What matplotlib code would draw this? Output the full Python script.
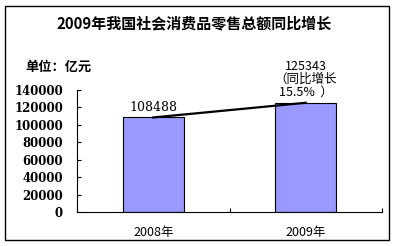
import matplotlib
matplotlib.use('Agg')
from matplotlib import pyplot as plt, ticker
from matplotlib.patches import Rectangle

plt.rcParams['font.family'] = ['Noto Sans CJK SC', 'DejaVu Sans']

years = ['2008年', '2009年']
sales = [108488, 125343]
growth_note = '125343\n（同比增长\n15.5%  ）'
yticks = [0, 20000, 40000, 60000, 80000, 100000, 120000, 140000]

fig = plt.figure(figsize=(3.97, 2.46), dpi=100)
fig.patches.append(Rectangle((5 / 397, 6 / 246), 384 / 397, 234 / 246, transform=fig.transFigure,
                             fill=False, edgecolor='black', linewidth=1))

ax = fig.add_axes([77 / 397, 1 - 212 / 246, 305 / 397, 122 / 246])
x = [0, 1]
ax.bar(x, sales, width=0.4, color='#9999ff', edgecolor='black', linewidth=0.8, zorder=2)
ax.plot(x, sales, color='black', linewidth=1.6, zorder=3)

ax.set_xlim(-0.5, 1.5)
ax.set_ylim(0, 140000)
ax.set_yticks(yticks)
ax.yaxis.set_major_formatter(ticker.FuncFormatter(lambda v, p: f'{int(v)}'))
ax.set_xticks([-0.5, 0.5, 1.5])
ax.set_xticklabels([])
ax.tick_params(axis='both', direction='in', length=3, width=0.8)
ax.tick_params(axis='y', labelsize=8.5, pad=10)
for lab in ax.get_yticklabels():
    lab.set_fontweight('bold')
    lab.set_family('DejaVu Serif')

for side in ['top', 'right']:
    ax.spines[side].set_visible(False)

for xi, name in zip(x, years):
    ax.text(xi, -0.17, name, transform=ax.get_xaxis_transform(), ha='center', va='center', fontsize=9)

ax.text(0, sales[0] + 4500, f'{sales[0]}', ha='center', va='bottom', fontsize=9, family='DejaVu Serif')
ax.text(1, sales[1] + 4500, growth_note, ha='center', va='bottom', fontsize=9, linespacing=1.0)

fig.text(194 / 397, 1 - 23 / 246, '2009年我国社会消费品零售总额同比增长', ha='center', va='center',
         fontsize=10.8, fontweight='bold')
fig.text(25 / 397, 1 - 67 / 246, '单位：亿元', ha='left', va='center', fontsize=9.5, fontweight='bold')

fig.savefig('out.png', dpi=100)
